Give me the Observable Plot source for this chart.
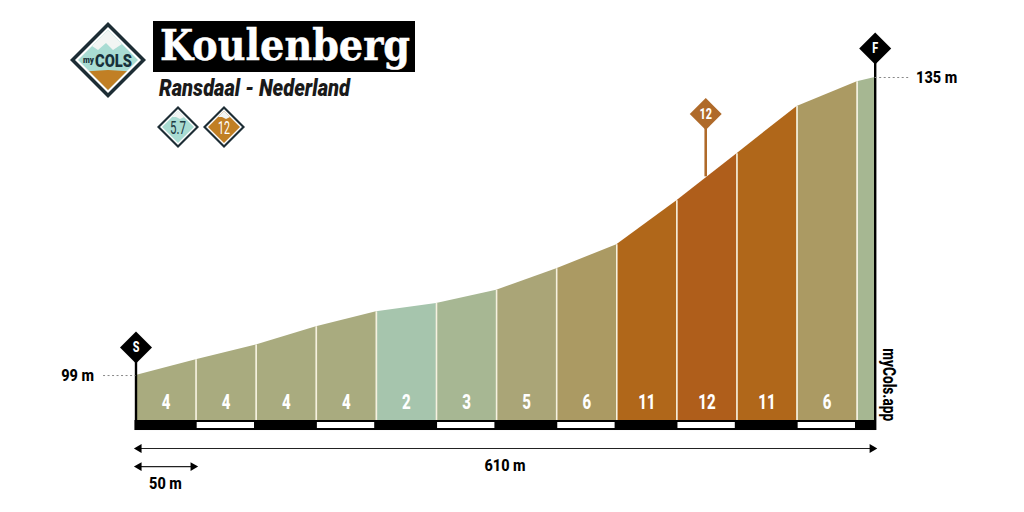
<!DOCTYPE html>
<html><head><meta charset="utf-8">
<script src="https://cdn.jsdelivr.net/npm/d3@7"></script>
<script src="https://cdn.jsdelivr.net/npm/@observablehq/plot@0.6"></script>
<style>
html,body{margin:0;background:#fff}
#wrap{position:relative;width:1024px;height:512px;overflow:hidden}
#wrap svg{position:absolute;left:0;top:0;background:transparent}
</style></head><body><div id="wrap"></div>
<script>
const distances = [0,50,100,150,200,250,300,350,400,450,500,550,600,615];
const elevations = [99,100.9,102.7,104.9,106.7,107.7,109.3,111.9,114.8,120.1,125.8,131.5,134.5,135];
const slopes = [4,4,4,4,2,3,5,6,11,12,11,6];
const colors = ["#a9ab7f","#a9ab7f","#a9ab7f","#a9ab7f","#a6c5ad","#a7b793","#aaa577","#ab9a63","#b0671a","#af5e1b","#b0671a","#ab9a63","#a6b792"];
const scaleBars = [[50.9,98.6],[150.9,198.6],[250.9,298.6],[350.9,398.6],[450.9,498.6],[550.9,598.6]];
const baseY = 93.57, barY = 92.36, arrowY = [90.19,88.0];
const poleS = 102.4, poleF = 138.5, peak = 130.6;
const NARROW = "Roboto,sans-serif";

const rows = distances.slice(0,-1).flatMap((d,i)=>[
  {d,e:elevations[i],seg:i,fill:colors[i]},
  {d:distances[i+1],e:elevations[i+1],seg:i,fill:colors[i]}
]);
const labels = slopes.map((s,i)=>({s,d:(distances[i]+distances[i+1])/2}));
const seps = distances.slice(1,-1).map((d,i)=>({d,e:elevations[i+1]}));
const black = "#000";
const txt = (t,o)=>Plot.text([t],{text:d=>d,fontFamily:NARROW,fontWeight:800,fill:black,...o});
const arrowHead = (x,y,rot)=>Plot.dot([0],{x:()=>x,y:()=>y,symbol:"triangle2",r:4.2,fill:black,stroke:"none",rotate:rot});

const chart = Plot.plot({
  width:1024,height:512,margin:0,
  x:{domain:[0,615],range:[135.5,874.7],axis:null},
  y:{domain:[baseY,135],range:[420,77],axis:null},
  color:{type:"identity"},
  style:{background:"transparent"},
  marks:[
    Plot.areaY(rows,{x:"d",y1:()=>baseY,y2:"e",z:"seg",fill:"fill",curve:"linear"}),
    Plot.ruleX(seps,{x:"d",y1:()=>baseY,y2:"e",stroke:"#f6f1df",strokeWidth:1.6}),
    Plot.rect([0],{x1:()=>0,x2:()=>615,y1:()=>baseY,y2:()=>barY,fill:black,insetLeft:-1,insetRight:-1}),
    Plot.rect(scaleBars,{x1:d=>d[0],x2:d=>d[1],y1:()=>baseY,y2:()=>barY,fill:"#fff",insetTop:2,insetBottom:2}),
    Plot.text(labels,{x:"d",y:()=>95.75,text:"s",fill:"#fff",fontFamily:NARROW,fontWeight:800,fontSize:21}),
    Plot.ruleX([0],{x:d=>d,y1:()=>barY,y2:()=>poleS,stroke:black,strokeWidth:2.4}),
    Plot.ruleX([615],{x:d=>d,y1:()=>barY,y2:()=>poleF,stroke:black,strokeWidth:2.4}),
    Plot.dot([0],{x:d=>d,y:()=>poleS,symbol:"diamond2",r:14.4,fill:black,stroke:"none"}),
    Plot.dot([615],{x:d=>d,y:()=>poleF,symbol:"diamond2",r:14.4,fill:black,stroke:"none"}),
    txt("S",{x:()=>0,y:()=>poleS,fill:"#fff",fontSize:15}),
    txt("F",{x:()=>615,y:()=>poleF,fill:"#fff",fontSize:15}),
    Plot.ruleY([99],{y:d=>d,x1:()=>-27,x2:()=>0,stroke:"#888",strokeWidth:1,strokeDasharray:"2 2.5"}),
    Plot.ruleY([135],{y:d=>d,x1:()=>615,x2:()=>643,stroke:"#888",strokeWidth:1,strokeDasharray:"2 2.5"}),
    txt("99 m",{x:()=>-35,y:()=>99,textAnchor:"end",fontSize:17}),
    txt("135 m",{x:()=>649,y:()=>135,textAnchor:"start",fontSize:17}),
    Plot.ruleX([474],{x:d=>d,y1:()=>123,y2:()=>peak,stroke:"#af6a2a",strokeWidth:2.6}),
    Plot.dot([474],{x:d=>d,y:()=>peak,symbol:"diamond2",r:14.4,fill:"#af6a2a",stroke:"none"}),
    txt("12",{x:()=>474,y:()=>peak,fill:"#fff",fontSize:15}),
    Plot.ruleY([arrowY[0]],{y:d=>d,x1:()=>2,x2:()=>613,stroke:"#222",strokeWidth:1.2}),
    arrowHead(2.5,arrowY[0],-90), arrowHead(612.5,arrowY[0],90),
    Plot.ruleY([arrowY[1]],{y:d=>d,x1:()=>2,x2:()=>48,stroke:"#222",strokeWidth:1.2}),
    arrowHead(2.5,arrowY[1],-90), arrowHead(47.5,arrowY[1],90),
    txt("610 m",{x:()=>307,y:()=>88.1,fontSize:17}),
    txt("50 m",{x:()=>24.5,y:()=>85.95,fontSize:17}),
    txt("myCols.app",{x:()=>626,y:()=>97.9,rotate:90,fontSize:18})
  ]
});
const wrap = document.getElementById("wrap");
wrap.appendChild(chart);
chart.querySelectorAll("text").forEach(t=>{
  const s = t.textContent;
  const k = / m$/.test(s) ? 0.85 : s.includes("Cols") ? 0.76 : 0.72;
  t.setAttribute("textLength",(t.getComputedTextLength()*k).toFixed(1));
  t.setAttribute("lengthAdjust","spacingAndGlyphs");
});

const NS = "http://www.w3.org/2000/svg";
const head = document.createElementNS(NS,"svg");
head.setAttribute("width",1024);head.setAttribute("height",512);
head.innerHTML = `
<defs>
<clipPath id="cl"><polygon points="108,30 138,60 108,90 78,60"/></clipPath>
</defs>
<polygon points="108,22 146,60 108,98 70,60" fill="#1d2d35"/>
<polygon points="108,27 141,60 108,93 75,60" fill="#fff"/>
<polygon points="108,30 138,60 108,90 78,60" fill="#a9dcd3"/>
<g clip-path="url(#cl)">
<polygon points="108,30 122,44 113,50 106,43 98,50 92,46" fill="#f2f5f3"/>
<polygon points="76,72 92,71 108,70 124,71 140,72 140,92 76,92" fill="#c17f24"/>
</g>
<text x="83" y="63" font-family="Roboto,sans-serif" font-weight="900" font-size="9" fill="#17303a" textLength="11" lengthAdjust="spacingAndGlyphs">my</text>
<text x="95" y="67" font-family="Roboto,sans-serif" font-weight="900" font-size="19" fill="#17303a" textLength="37" lengthAdjust="spacingAndGlyphs">COLS</text>
<rect x="153" y="21" width="262" height="51" fill="#000"/>
<text x="160" y="60" font-family="'DejaVu Serif',serif" font-weight="700" font-size="42" fill="#fff" stroke="#fff" stroke-width="0.5" textLength="250" lengthAdjust="spacingAndGlyphs">Koulenberg</text>
<text x="159" y="96" font-family="Roboto,sans-serif" font-weight="900" font-style="italic" font-size="24" fill="#1a1a1a" textLength="191" lengthAdjust="spacingAndGlyphs">Ransdaal - Nederland</text>
<polygon points="178,106 199,127 178,148 157,127" fill="#1d2d35"/>
<polygon points="178,109 196,127 178,145 160,127" fill="#fff"/>
<polygon points="178,111 194,127 178,143 162,127" fill="#a9dcd3"/>
<polygon points="178,111 184,117 180,119 176,117 172,117" fill="#f2f5f3"/>
<text x="170" y="134" font-family="Roboto,sans-serif" font-size="18" fill="#1d3a44" textLength="16" lengthAdjust="spacingAndGlyphs">5.7</text>
<polygon points="224,106 245,127 224,148 203,127" fill="#1d2d35"/>
<polygon points="224,109 242,127 224,145 206,127" fill="#fff"/>
<polygon points="224,111 240,127 224,143 208,127" fill="#c17f24"/>
<polygon points="224,111 230,117 226,119 222,117 218,117" fill="#f2f5f3"/>
<text x="218" y="134" font-family="Roboto,sans-serif" font-size="18" fill="#fff" textLength="12" lengthAdjust="spacingAndGlyphs">12</text>`;
wrap.appendChild(head);
</script></body></html>
